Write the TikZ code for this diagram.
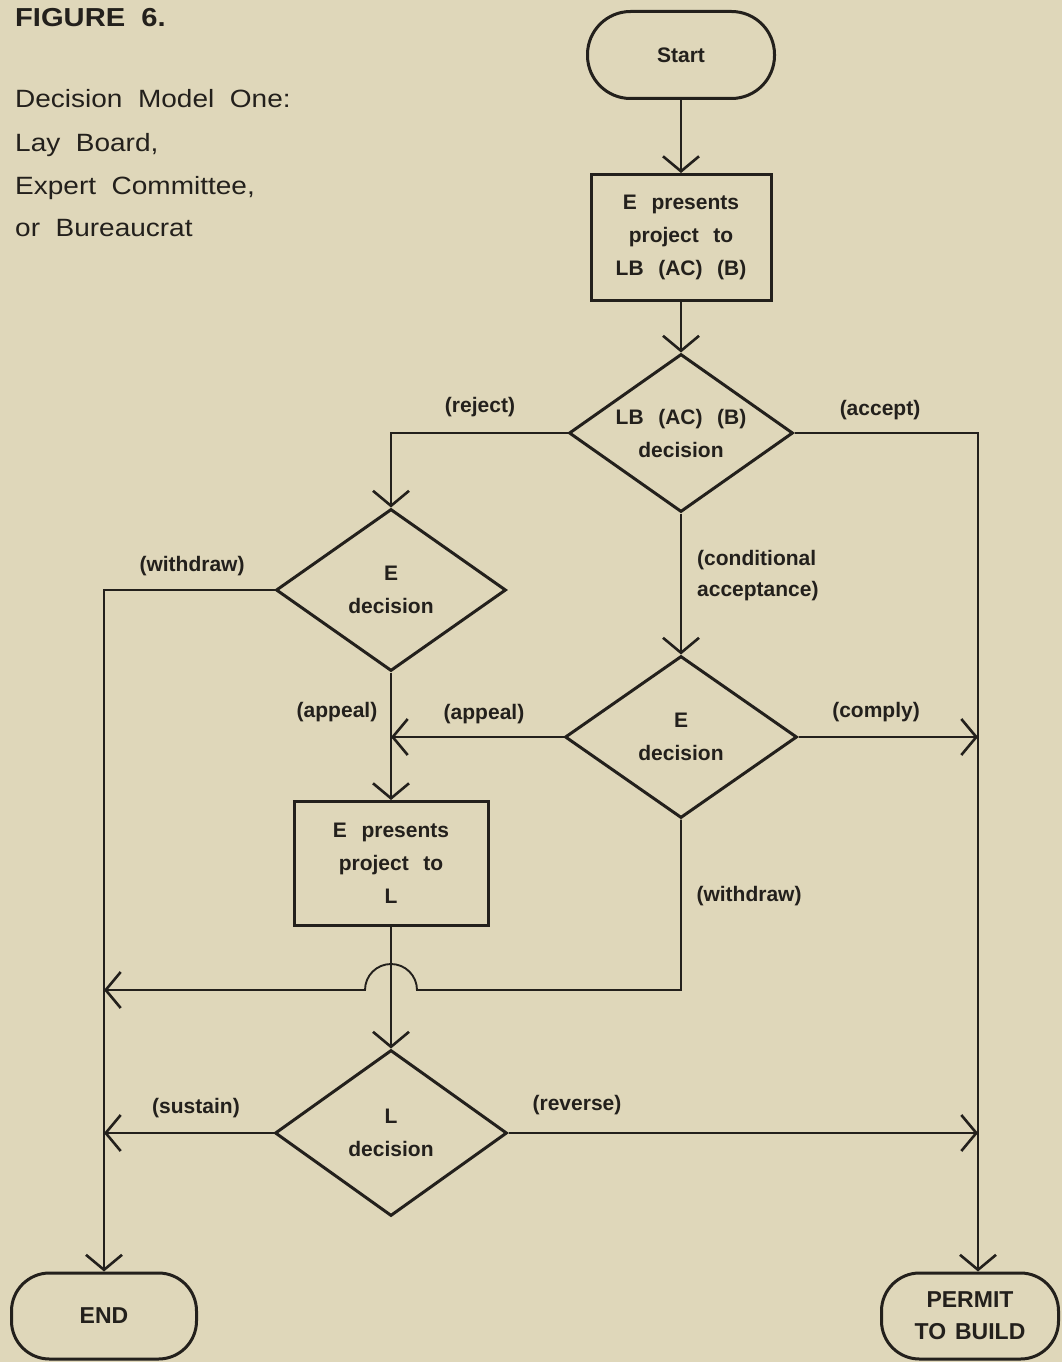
\documentclass[tikz,border=0pt]{standalone}
\usepackage{fontspec}
\setmainfont{Liberation Sans}[WordSpace=2.5]
\newfontfamily\titlefont{Liberation Sans}[FakeStretch=1.12,WordSpace=2]
\newfontfamily\termfont{Liberation Sans}[WordSpace=1.4]
\usetikzlibrary{shapes.geometric,arrows.meta,calc}
\definecolor{paper}{RGB}{223,215,186}
\definecolor{ink}{RGB}{35,32,28}
\begin{document}
\begin{tikzpicture}[x=1pt,y=1pt,
  nodefont/.style={font=\bfseries\fontsize{21}{33}\selectfont},
  procbox/.style={draw=ink,line width=3pt,rectangle,inner sep=0pt,align=center,text=ink,nodefont},
  termnode/.style={draw=ink,line width=3pt,rectangle,inner sep=0pt,align=center,text=ink,font=\termfont\bfseries\fontsize{23}{32}\selectfont},
  decnode/.style={draw=ink,line width=3pt,diamond,aspect=1.4,inner sep=0pt,align=center,text=ink,nodefont},
  lbl/.style={inner sep=0pt,text=ink,nodefont},
  conn/.style={draw=ink,line width=1.9pt},
  arr/.style={-{Straight Barb[length=15pt,width=36pt,line width=2.6pt]}},
  ttl/.style={inner sep=0pt,anchor=base west,text=ink}
]
\useasboundingbox (0,0) rectangle (1062,-1362);
\fill[paper] (0,0) rectangle (1062,-1362);

% title
\node[ttl,font=\titlefont\bfseries\fontsize{26}{30}\selectfont] (fig) at (15,-27) {FIGURE 6.};
\node[ttl,font=\titlefont\fontsize{25}{30}\selectfont] (t1) at (15,-108) {Decision Model One:};
\node[ttl,font=\titlefont\fontsize{25}{30}\selectfont] (t2) at (15,-151) {Lay Board,};
\node[ttl,font=\titlefont\fontsize{25}{30}\selectfont] (t3) at (15,-194) {Expert Committee,};
\node[ttl,font=\titlefont\fontsize{25}{30}\selectfont] (t4) at (15,-236) {or Bureaucrat};

% nodes
\node[termnode,minimum width=187,minimum height=87,rounded corners=43,nodefont] (start) at (681,-55) {Start};
\node[procbox,minimum width=180,minimum height=126] (b1) at (681,-237.5) {E presents\\project to\\LB (AC) (B)};
\node[decnode,minimum width=224,minimum height=158] (d1) at (681,-433) {LB (AC) (B)\\decision};
\node[decnode,minimum width=230,minimum height=162] (d2) at (391,-590) {E\\decision};
\node[decnode,minimum width=232,minimum height=162] (d3) at (681,-737) {E\\decision};
\node[procbox,minimum width=194,minimum height=124] (b2) at (391,-863.5) {E presents\\project to\\L};
\node[decnode,minimum width=232,minimum height=166] (d4) at (391,-1133) {L\\decision};
\node[termnode,minimum width=185,minimum height=86,rounded corners=38] (end) at (104,-1316) {END};
\node[termnode,minimum width=177,minimum height=86,rounded corners=38] (pm) at (970,-1316) {PERMIT\\TO BUILD};

\coordinate (accx) at (978,0);
\coordinate (hop) at (391,-990);

% connectors
\draw[conn,arr] (start.south) -- (b1.north);
\draw[conn,arr] (b1.south) -- (d1.north);
\draw[conn,arr] (d1.west) -| (d2.north);
\draw[conn,arr] (d1.east) -| (pm.north -| accx);
\draw[conn,arr] (d2.west) -| (end.north);
\draw[conn,arr] (d1.south) -- (d3.north);
\draw[conn,arr] (d3.east) -- (d3.east -| accx);
\draw[conn,arr] (d3.west) -- (d3.west -| d2.south);
\draw[conn,arr] (d2.south) -- (b2.north);
\draw[conn,arr] (b2.south) -- (d4.north);
\draw[conn,arr] (d3.south) -- (d3.south |- hop) -- ($(hop)+(26,0)$)
   arc[start angle=0,end angle=180,radius=26] -- (hop -| end.north);
\draw[conn,arr] (d4.west) -- (d4.west -| end.north);
\draw[conn,arr] (d4.east) -- (d4.east -| accx);

% labels
\node[lbl] (lrej) at (480,-407) {(reject)};
\node[lbl] (lacc) at (880,-410) {(accept)};
\node[lbl] (lwd1) at (192,-566) {(withdraw)};
\node[lbl,align=left,anchor=west,font=\bfseries\fontsize{21}{31}\selectfont] (lcond) at (697,-575.5) {(conditional\\acceptance)};
\node[lbl] (lap1) at (337,-712) {(appeal)};
\node[lbl] (lap2) at (484,-714) {(appeal)};
\node[lbl] (lcom) at (876,-712) {(comply)};
\node[lbl] (lwd2) at (749,-896) {(withdraw)};
\node[lbl] (lsus) at (196,-1108) {(sustain)};
\node[lbl] (lrev) at (577,-1105) {(reverse)};
\end{tikzpicture}
\end{document}
